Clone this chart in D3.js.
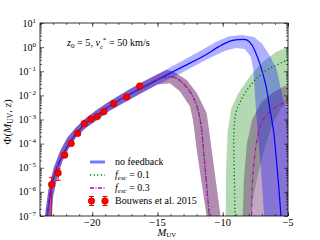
<!DOCTYPE html>
<html>
<head>
<meta charset="utf-8">
<script src="https://cdn.jsdelivr.net/npm/d3@7"></script>
<style>
body { margin: 0; background: #fff; }
</style>
</head>
<body>
<svg id="chart" width="320" height="240" font-family="'Liberation Serif', 'DejaVu Serif', serif"></svg>
<script>
// Bouwens et al. 2015, z ~ 5
var obsM   = [-23.11, -22.61, -22.11, -21.61, -21.11, -20.61, -20.11, -19.61, -19.11, -18.36, -17.36, -16.36];
var obsPhi = [0.000002, 0.000006, 0.000034, 0.000101, 0.000265, 0.000676, 0.001029, 0.001329, 0.002085, 0.004460, 0.008600, 0.024400];
var obsErr = [0.000002, 0.000003, 0.000008, 0.000014, 0.000025, 0.000046, 0.000067, 0.000094, 0.000171, 0.000366, 0.001472, 0.004182];

// model curves: magnitude and log10(Phi)
var noFbM   = [-23.5, -23.16, -22.77, -22.26, -21.75, -21.11, -20.47, -19.71, -18.69, -17.4, -16.4, -15.0, -13.27, -11.5, -10.3, -9.44, -8.8, -8.16, -7.78, -7.35, -7.01, -6.68, -6.38, -6.10, -5.9, -5.69, -5.5];
var noFbLog = [-7.3, -5.92, -5.09, -4.47, -3.98, -3.50, -3.15, -2.85, -2.46, -2.03, -1.75, -1.35, -0.87, -0.38, 0.02, 0.25, 0.31, 0.30, 0.10, -0.4, -0.94, -1.63, -2.60, -3.5, -4.6, -5.92, -7.3];

// bright branch shared by f_esc = 0.1 and 0.3
var brightM   = [-23.5, -23.16, -22.77, -22.26, -21.75, -21.11, -20.47, -19.71, -18.69, -17.4, -16.4, -15.0, -14.3, -13.81, -13.2, -12.6, -12.2, -11.9, -11.65, -11.45, -11.23, -10.98];
var brightLog = [-7.3, -5.92, -5.09, -4.47, -3.98, -3.50, -3.15, -2.85, -2.46, -2.03, -1.75, -1.33, -1.24, -1.23, -1.42, -1.78, -2.15, -2.6, -3.3, -4.4, -5.75, -7.3];

// faint branches
var f01M   = [-9.05, -9.12, -9.15, -9.0, -8.6, -7.9, -6.9, -5.9, -4.9];
var f01Log = [-7.3, -5.1, -3.6, -2.75, -2.2, -1.6, -1.05, -0.75, -0.5];
var f03M   = [-7.8, -7.7, -7.45, -7.15, -6.7, -6.1, -5.5, -4.9];
var f03Log = [-7.3, -5.4, -4.1, -3.3, -2.85, -2.55, -2.35, -2.12];

// uncertainty bands (closed outlines)
var obsBandUpM   = [-23.75, -23.35, -22.95, -22.45, -21.9, -21.2, -20.5, -19.7, -18.7, -17.4, -16.4, -15.0];
var obsBandUpLog = [-7.5, -5.9, -5.0, -4.3, -3.75, -3.3, -2.95, -2.62, -2.25, -1.83, -1.52, -1.12];
var obsBandLoM   = [-23.2, -23.0, -22.7, -22.3, -21.8, -21.2, -20.5, -19.7, -18.7, -17.4, -16.4, -15.0];
var obsBandLoLog = [-7.5, -6.2, -5.45, -4.75, -4.2, -3.7, -3.35, -3.05, -2.65, -2.25, -1.95, -1.55];

var noFbBandOutM   = [-13.27, -11.7, -10.5, -9.5, -8.5, -7.6, -7.0, -6.4, -5.86, -5.36, -4.9, -4.5, -4.5];
var noFbBandOutLog = [-0.62, -0.15, 0.22, 0.45, 0.5, 0.42, 0.15, -0.35, -0.94, -2.19, -2.8, -3.5, -7.5];
var noFbBandInM    = [-6.76, -7.07, -7.4, -7.66, -7.85, -8.3, -9.0, -9.8, -10.8, -11.7, -13.27];
var noFbBandInLog  = [-7.5, -5.09, -3.02, -0.94, -0.4, -0.08, -0.04, -0.15, -0.4, -0.65, -1.1];

var brightBandOutM   = [-14.3, -13.81, -12.76, -11.99, -11.23, -10.74, -10.05];
var brightBandOutLog = [-0.95, -1.0, -1.36, -1.90, -2.73, -4.68, -7.5];
var brightBandInM    = [-11.1, -11.99, -12.28, -12.51, -13.27, -14.04];
var brightBandInLog  = [-7.5, -4.26, -3.02, -2.46, -1.84, -1.5];

var f01BandM   = [-9.78, -9.74, -9.62, -9.35, -8.8, -7.9, -6.9, -5.9, -4.5, -4.5, -5.5, -6.2, -6.8, -7.3, -7.7, -8.0];
var f01BandLog = [-7.5, -5, -3.5, -2.55, -1.9, -1.2, -0.6, -0.2, 0.15, -2.2, -2.5, -3.2, -4.2, -5.3, -6.3, -7.5];
var f03BandM   = [-8.5, -8.38, -8.15, -7.75, -7.05, -6.2, -5.4, -4.5, -4.5];
var f03BandLog = [-7.5, -5.5, -4.0, -3.0, -2.3, -1.9, -1.65, -1.45, -7.5];

var yDecades = [-7, -6, -5, -4, -3, -2, -1, 0, 1];
var xTicks = [-20, -15, -10, -5];

var margin = {top: 23, right: 32, bottom: 24, left: 40},
    width = 320 - margin.left - margin.right,
    height = 240 - margin.top - margin.bottom;

var svg = d3.select("#chart");
var g = svg.append("g")
    .attr("transform", "translate(" + margin.left + "," + margin.top + ")");

var x = d3.scaleLinear().domain([-24, -5]).range([0, width]);
var y = d3.scaleLog().domain([1e-7, 10]).range([height, 0]);

function pts(ms, logs) {
  return ms.map(function(m, i) { return [m, logs[i]]; });
}
var line = d3.line()
    .x(function(d) { return x(d[0]); })
    .y(function(d) { return y(Math.pow(10, d[1])); })
    .curve(d3.curveCatmullRom);
var poly = d3.line()
    .x(function(d) { return x(d[0]); })
    .y(function(d) { return y(Math.pow(10, d[1])); })
    .curve(d3.curveLinearClosed);

g.append("clipPath").attr("id", "clip")
  .append("rect").attr("width", width).attr("height", height);
var plot = g.append("g").attr("clip-path", "url(#clip)");

var obsUp = pts(obsBandUpM, obsBandUpLog);
var obsLo = pts(obsBandLoM, obsBandLoLog).reverse();

var brightBand = obsUp.concat(pts(brightBandOutM, brightBandOutLog), pts(brightBandInM, brightBandInLog), obsLo);
var noFbBand = obsUp.concat(pts(noFbBandOutM, noFbBandOutLog), pts(noFbBandInM, noFbBandInLog), obsLo);

// bands: green, then magenta, then blue on top
plot.append("path").attr("d", poly(pts(f01BandM, f01BandLog))).attr("fill", "#008000").attr("fill-opacity", 0.3);
plot.append("path").attr("d", poly(brightBand)).attr("fill", "#611961").attr("fill-opacity", 0.5);
plot.append("path").attr("d", poly(pts(f03BandM, f03BandLog))).attr("fill", "#611961").attr("fill-opacity", 0.38);
plot.append("path").attr("d", poly(noFbBand)).attr("fill", "#0000ff").attr("fill-opacity", 0.31);

// lines
plot.append("path").attr("d", line(pts(noFbM, noFbLog)))
  .attr("fill", "none").attr("stroke", "#0000ff").attr("stroke-width", 1.2);
[pts(brightM, brightLog), pts(f01M, f01Log)].forEach(function(p) {
  plot.append("path").attr("d", line(p))
    .attr("fill", "none").attr("stroke", "#008000").attr("stroke-width", 1.4)
    .attr("stroke-dasharray", "1.2,2.4");
});
[pts(brightM, brightLog), pts(f03M, f03Log)].forEach(function(p) {
  plot.append("path").attr("d", line(p))
    .attr("fill", "none").attr("stroke", "#bf00bf").attr("stroke-width", 1.2)
    .attr("stroke-dasharray", "4,1.5,1,1.5");
});

// data points with error bars
var obs = obsM.map(function(m, i) { return {m: m, phi: obsPhi[i], err: obsErr[i]}; });
var eb = plot.append("g").selectAll("g").data(obs).enter().append("g");
eb.append("line")
  .attr("x1", function(d) { return x(d.m); })
  .attr("x2", function(d) { return x(d.m); })
  .attr("y1", function(d) { return y(d.phi + d.err); })
  .attr("y2", function(d) { return y(Math.max(d.phi - d.err, 1e-9)); })
  .attr("stroke", "red").attr("stroke-width", 1);
eb.append("line")
  .attr("x1", function(d) { return x(d.m) - 2.5; })
  .attr("x2", function(d) { return x(d.m) + 2.5; })
  .attr("y1", function(d) { return y(d.phi + d.err); })
  .attr("y2", function(d) { return y(d.phi + d.err); })
  .attr("stroke", "red").attr("stroke-width", 1);
eb.append("line")
  .attr("x1", function(d) { return x(d.m) - 2.5; })
  .attr("x2", function(d) { return x(d.m) + 2.5; })
  .attr("y1", function(d) { return y(Math.max(d.phi - d.err, 1e-9)); })
  .attr("y2", function(d) { return y(Math.max(d.phi - d.err, 1e-9)); })
  .attr("stroke", "red").attr("stroke-width", 1);
eb.append("circle")
  .attr("cx", function(d) { return x(d.m); })
  .attr("cy", function(d) { return y(d.phi); })
  .attr("r", 3.3)
  .attr("fill", "red").attr("stroke", "#a00000").attr("stroke-width", 0.5);

// axes: ticks inside on all four sides
var minorY = [];
yDecades.slice(0, -1).forEach(function(k) {
  for (var j = 2; j < 10; j++) minorY.push(j * Math.pow(10, k));
});
var majorY = yDecades.map(function(k) { return Math.pow(10, k); });
var minorX = d3.range(-24, -4, 1);

function styleAxis(sel) {
  sel.select(".domain").remove();
  sel.selectAll("line").attr("stroke", "#000").attr("stroke-width", 0.6);
  sel.selectAll("text").remove();
}
g.append("g").call(d3.axisLeft(y).tickValues(majorY).tickSize(-4)).call(styleAxis);
g.append("g").call(d3.axisLeft(y).tickValues(minorY).tickSize(-2)).call(styleAxis);
g.append("g").attr("transform", "translate(" + width + ",0)")
  .call(d3.axisRight(y).tickValues(majorY).tickSize(-4)).call(styleAxis);
g.append("g").attr("transform", "translate(" + width + ",0)")
  .call(d3.axisRight(y).tickValues(minorY).tickSize(-2)).call(styleAxis);
g.append("g").attr("transform", "translate(0," + height + ")")
  .call(d3.axisBottom(x).tickValues(xTicks).tickSize(-4)).call(styleAxis);
g.append("g").attr("transform", "translate(0," + height + ")")
  .call(d3.axisBottom(x).tickValues(minorX).tickSize(-2)).call(styleAxis);
g.append("g").call(d3.axisTop(x).tickValues(xTicks).tickSize(-4)).call(styleAxis);
g.append("g").call(d3.axisTop(x).tickValues(minorX).tickSize(-2)).call(styleAxis);

g.append("rect").attr("width", width).attr("height", height)
  .attr("fill", "none").attr("stroke", "#000").attr("stroke-width", 0.8);

// tick labels
yDecades.forEach(function(k) {
  var t = g.append("text").attr("x", -4).attr("y", y(Math.pow(10, k)) + 3.5)
    .attr("text-anchor", "end").attr("font-size", 10);
  t.append("tspan").text("10");
  t.append("tspan").attr("dy", -4).attr("font-size", 7).text(String(k).replace("-", "\u2212"));
});
xTicks.forEach(function(v) {
  g.append("text").attr("x", x(v)).attr("y", height + 10)
    .attr("text-anchor", "middle").attr("font-size", 10.5)
    .text(String(v).replace("-", "\u2212"));
});

// axis titles
var xl = svg.append("text").attr("x", 167).attr("y", 235.5).attr("text-anchor", "middle").attr("font-size", 10.5);
xl.append("tspan").attr("font-style", "italic").text("M");
xl.append("tspan").attr("dy", 1.5).attr("font-size", 7).text("UV");

var yl = svg.append("text").attr("transform", "translate(11,122) rotate(-90)")
  .attr("text-anchor", "middle").attr("font-size", 11);
yl.append("tspan").text("\u03a6(");
yl.append("tspan").attr("font-style", "italic").text("M");
yl.append("tspan").attr("dy", 2).attr("font-size", 7.5).text("UV");
yl.append("tspan").attr("dy", -2).text(", ");
yl.append("tspan").attr("font-style", "italic").text("z");
yl.append("tspan").text(")");

// annotation
var an = svg.append("text").attr("x", 67).attr("y", 46).attr("font-size", 10.2);
an.append("tspan").attr("font-style", "italic").text("z");
an.append("tspan").attr("dy", 2).attr("font-size", 7).text("0");
an.append("tspan").attr("dy", -2).text(" = 5, ");
an.append("tspan").attr("font-style", "italic").text("v");
an.append("tspan").attr("dy", 2.5).attr("font-size", 7).attr("font-style", "italic").text("c");
an.append("tspan").attr("dx", -0.3).attr("dy", -7).attr("font-size", 7).text("*");
an.append("tspan").attr("dy", 4.5).text(" = 50 km/s");

// legend
var lg = svg.append("g");
var rowY = [162, 175, 188, 201];
lg.append("line").attr("x1", 90).attr("x2", 105).attr("y1", rowY[0]).attr("y2", rowY[0])
  .attr("stroke", "#7878ff").attr("stroke-width", 3);
lg.append("line").attr("x1", 90).attr("x2", 105).attr("y1", rowY[1]).attr("y2", rowY[1])
  .attr("stroke", "#008000").attr("stroke-width", 1.4).attr("stroke-dasharray", "1.2,2.4");
lg.append("line").attr("x1", 90).attr("x2", 105).attr("y1", rowY[2]).attr("y2", rowY[2])
  .attr("stroke", "#bf00bf").attr("stroke-width", 1.6).attr("stroke-dasharray", "4,1.5,1,1.5");
[91.5, 105].forEach(function(cx) {
  lg.append("line").attr("x1", cx).attr("x2", cx).attr("y1", rowY[3] - 4.5).attr("y2", rowY[3] + 4.5)
    .attr("stroke", "red").attr("stroke-width", 1);
  lg.append("line").attr("x1", cx - 2.5).attr("x2", cx + 2.5).attr("y1", rowY[3] - 4.5).attr("y2", rowY[3] - 4.5)
    .attr("stroke", "red").attr("stroke-width", 1);
  lg.append("line").attr("x1", cx - 2.5).attr("x2", cx + 2.5).attr("y1", rowY[3] + 4.5).attr("y2", rowY[3] + 4.5)
    .attr("stroke", "red").attr("stroke-width", 1);
  lg.append("circle").attr("cx", cx).attr("cy", rowY[3]).attr("r", 3.3)
    .attr("fill", "red").attr("stroke", "#a00000").attr("stroke-width", 0.5);
});
lg.append("text").attr("x", 115).attr("y", rowY[0] + 3).attr("font-size", 10).text("no feedback");
[[rowY[1], "0.1"], [rowY[2], "0.3"]].forEach(function(r) {
  var t = lg.append("text").attr("x", 115).attr("y", r[0] + 3).attr("font-size", 10);
  t.append("tspan").attr("font-style", "italic").text("f");
  t.append("tspan").attr("dy", 2).attr("font-size", 7).attr("font-style", "italic").text("esc");
  t.append("tspan").attr("dy", -2).text(" = " + r[1]);
});
lg.append("text").attr("x", 115).attr("y", rowY[3] + 3).attr("font-size", 10).text("Bouwens et al. 2015");
</script>
</body>
</html>
